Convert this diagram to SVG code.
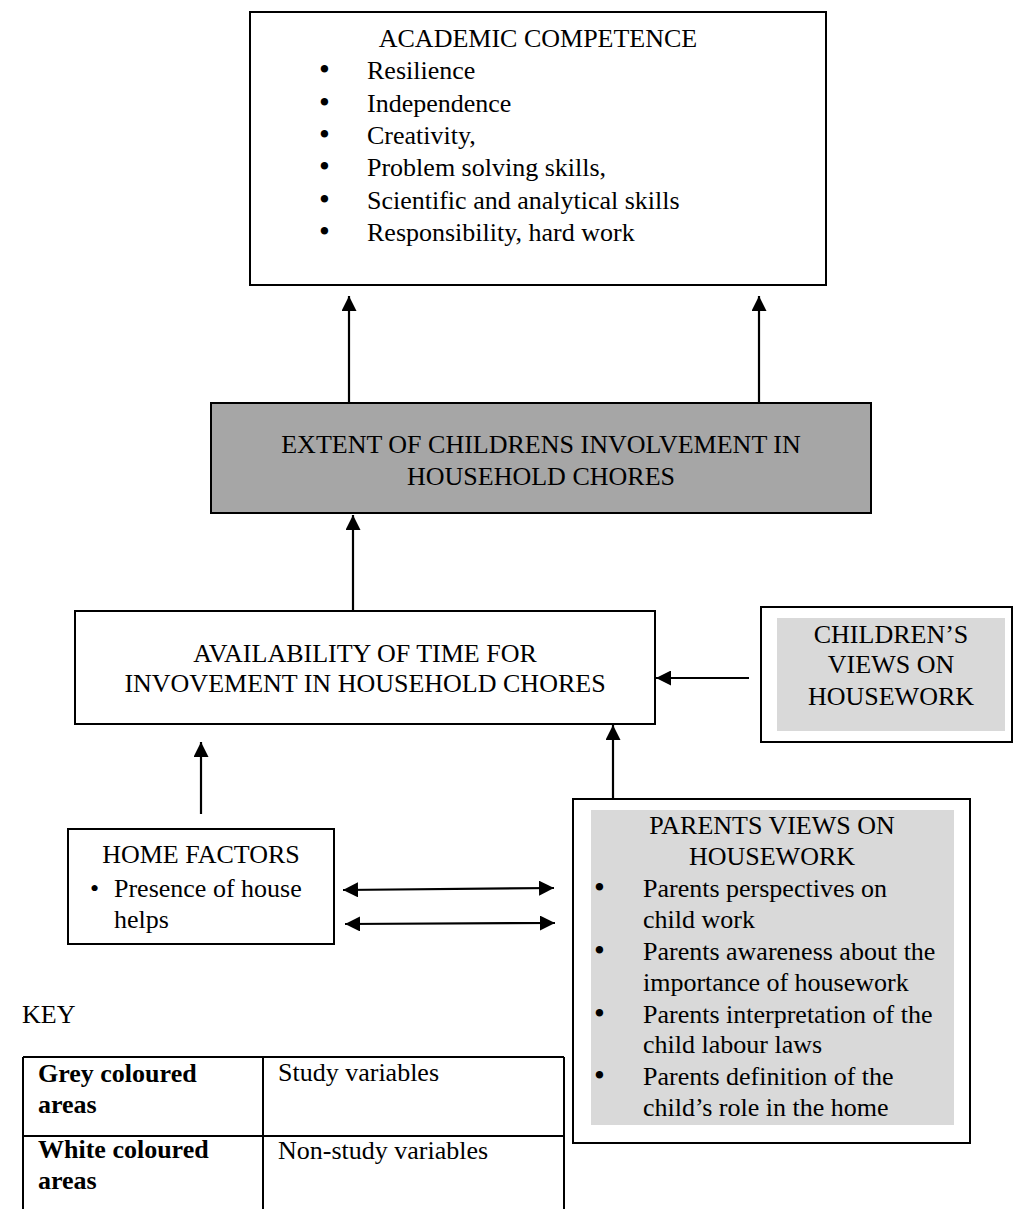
<svg xmlns="http://www.w3.org/2000/svg" width="1013" height="1209" viewBox="0 0 1013 1209">
  <style>
    text { font-family: "Liberation Serif", "Times New Roman", serif; font-size: 26px; fill: #000; }
    .c { text-anchor: middle; }
    .b { font-weight: bold; }
    .bl { font-size: 31px; }
    .box { fill: #fff; stroke: #000; stroke-width: 2; }
    .dark { fill: #a6a6a6; stroke: #000; stroke-width: 2; }
    .light { fill: #d9d9d9; stroke: none; }
    .conn line { stroke: #000; stroke-width: 2.2; fill: none; }
    .tbl { stroke: #000; stroke-width: 2; fill: none; }
  </style>
  <defs>
    <marker id="ah" viewBox="0 0 15 15" refX="15" refY="7.5" markerWidth="15" markerHeight="15" markerUnits="userSpaceOnUse" orient="auto-start-reverse">
      <path d="M0,0 L15,7.5 L0,15 Z" fill="#000"/>
    </marker>
  </defs>
  <rect width="1013" height="1209" fill="#fff"/>

  <g id="academic-competence">
    <rect class="box" x="250" y="12" width="576" height="273"/>
    <text class="c" x="538" y="47">ACADEMIC COMPETENCE</text>
    <text class="bl" x="319" y="80">•</text><text x="367" y="79">Resilience</text>
    <text class="bl" x="319" y="113">•</text><text x="367" y="112">Independence</text>
    <text class="bl" x="319" y="145">•</text><text x="367" y="144">Creativity,</text>
    <text class="bl" x="319" y="177">•</text><text x="367" y="176">Problem solving skills,</text>
    <text class="bl" x="319" y="210">•</text><text x="367" y="209">Scientific and analytical skills</text>
    <text class="bl" x="319" y="242">•</text><text x="367" y="241">Responsibility, hard work</text>
  </g>

  <g id="extent-involvement">
    <rect class="dark" x="211" y="403" width="660" height="110"/>
    <text class="c" x="541" y="453">EXTENT OF CHILDRENS INVOLVEMENT IN</text>
    <text class="c" x="541" y="485">HOUSEHOLD CHORES</text>
  </g>

  <g id="availability-time">
    <rect class="box" x="75" y="611" width="580" height="113"/>
    <text class="c" x="365" y="662">AVAILABILITY OF TIME FOR</text>
    <text class="c" x="365" y="692">INVOVEMENT IN HOUSEHOLD CHORES</text>
  </g>

  <g id="childrens-views">
    <rect class="box" x="761" y="607" width="251" height="135"/>
    <rect class="light" x="777" y="618" width="228" height="113"/>
    <text class="c" x="891" y="643">CHILDREN’S</text>
    <text class="c" x="891" y="673">VIEWS ON</text>
    <text class="c" x="891" y="705">HOUSEWORK</text>
  </g>

  <g id="home-factors">
    <rect class="box" x="68" y="829" width="266" height="115"/>
    <text class="c" x="201" y="863">HOME FACTORS</text>
    <text x="90" y="897">•</text><text x="114" y="897">Presence of house</text>
    <text x="114" y="928">helps</text>
  </g>

  <g id="parents-views">
    <rect class="box" x="573" y="799" width="397" height="344"/>
    <rect class="light" x="591" y="810" width="363" height="315"/>
    <text class="c" x="772" y="834">PARENTS VIEWS ON</text>
    <text class="c" x="772" y="865">HOUSEWORK</text>
    <text class="bl" x="594" y="898">•</text><text x="643" y="897">Parents perspectives on</text>
    <text x="643" y="928">child work</text>
    <text class="bl" x="594" y="961">•</text><text x="643" y="960">Parents awareness about the</text>
    <text x="643" y="991">importance of housework</text>
    <text class="bl" x="594" y="1024">•</text><text x="643" y="1023">Parents interpretation of the</text>
    <text x="643" y="1053">child labour laws</text>
    <text class="bl" x="594" y="1086">•</text><text x="643" y="1085">Parents definition of the</text>
    <text x="643" y="1116">child’s role in the home</text>
  </g>

  <g id="key">
    <text x="22" y="1023">KEY</text>
    <path class="tbl" d="M23,1057 H564 M23,1136 H564 M23,1057 V1215 M263,1057 V1215 M564,1057 V1215"/>
    <text class="b" x="38" y="1082">Grey coloured</text>
    <text class="b" x="38" y="1113">areas</text>
    <text x="278" y="1081">Study variables</text>
    <text class="b" x="38" y="1158">White coloured</text>
    <text class="b" x="38" y="1189">areas</text>
    <text x="278" y="1159">Non-study variables</text>
  </g>

  <g id="connectors" class="conn">
    <line x1="349" y1="403" x2="349" y2="296" marker-end="url(#ah)"/>
    <line x1="759" y1="403" x2="759" y2="296" marker-end="url(#ah)"/>
    <line x1="353" y1="611" x2="353" y2="515" marker-end="url(#ah)"/>
    <line x1="749" y1="678" x2="656" y2="678" marker-end="url(#ah)"/>
    <line x1="613" y1="799" x2="613" y2="725" marker-end="url(#ah)"/>
    <line x1="201" y1="814" x2="201" y2="742" marker-end="url(#ah)"/>
    <line x1="343" y1="890" x2="554" y2="888" marker-start="url(#ah)" marker-end="url(#ah)"/>
    <line x1="345" y1="924" x2="555" y2="923" marker-start="url(#ah)" marker-end="url(#ah)"/>
  </g>
</svg>
